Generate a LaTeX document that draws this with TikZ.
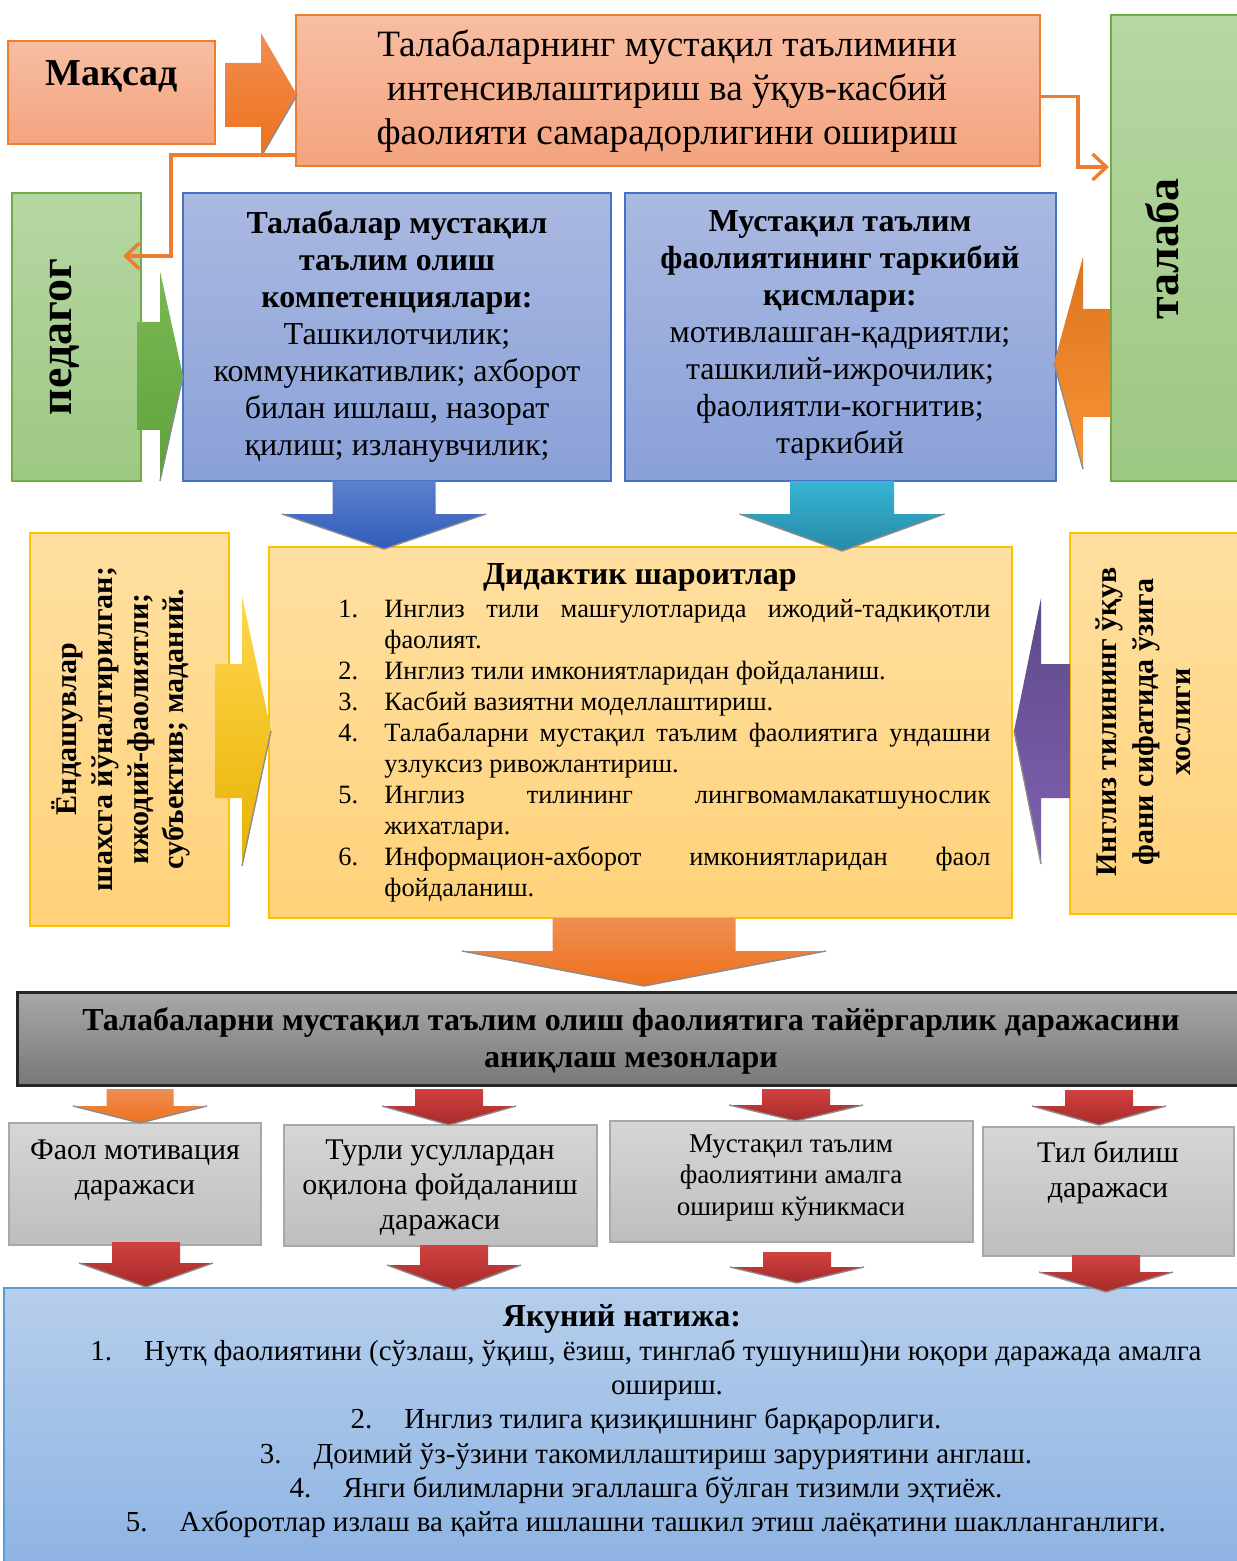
\documentclass[tikz,border=0pt]{standalone}
\usepackage{fontspec}
\setmainfont{Liberation Serif}
\usetikzlibrary{arrows.meta,fit}

% colours of the boxes
\definecolor{salmonTop}{RGB}{247,190,163}
\definecolor{salmonBot}{RGB}{244,163,127}
\definecolor{salmonLine}{RGB}{237,125,49}
\definecolor{greenTop}{RGB}{182,215,163}
\definecolor{greenBot}{RGB}{157,200,130}
\definecolor{greenLine}{RGB}{112,173,71}
\definecolor{blueTop}{RGB}{170,185,225}
\definecolor{blueBot}{RGB}{137,160,216}
\definecolor{blueLine}{RGB}{68,114,196}
\definecolor{yelTop}{RGB}{255,223,160}
\definecolor{yelBot}{RGB}{255,210,122}
\definecolor{yelLine}{RGB}{255,192,0}
\definecolor{grayTop}{RGB}{168,168,168}
\definecolor{grayBot}{RGB}{120,120,120}
\definecolor{lgrayTop}{RGB}{214,214,214}
\definecolor{lgrayBot}{RGB}{190,190,190}
\definecolor{lgrayLine}{RGB}{168,168,168}
\definecolor{resTop}{RGB}{182,206,235}
\definecolor{resBot}{RGB}{142,180,228}
\definecolor{resLine}{RGB}{91,155,213}

% block arrows
\tikzset{
  box/.style={rectangle, inner sep=0pt, line width=1pt},
  salmonbox/.style={box, draw=salmonLine, top color=salmonTop, bottom color=salmonBot},
  greenbox/.style={box, draw=greenLine, top color=greenTop, bottom color=greenBot},
  bluebox/.style={box, draw=blueLine, top color=blueTop, bottom color=blueBot},
  yelbox/.style={box, draw=yelLine, top color=yelTop, bottom color=yelBot},
  graybox/.style={box, draw=black!85, line width=1.5pt, top color=grayTop, bottom color=grayBot},
  lvlbox/.style={box, draw=lgrayLine, top color=lgrayTop, bottom color=lgrayBot},
  resbox/.style={box, draw=resLine, top color=resTop, bottom color=resBot},
  link/.style={draw=salmonLine, line width=1.7pt, -{Straight Barb[length=7pt,width=13pt]}},
  orArrow/.style={top color={rgb,255:red,240;green,142;blue,82}, bottom color={rgb,255:red,238;green,112;blue,28}},
  orUpArrow/.style={top color={rgb,255:red,218;green,116;blue,32}, bottom color={rgb,255:red,252;green,148;blue,52}},
  grArrow/.style={top color={rgb,255:red,124;green,184;blue,86}, bottom color={rgb,255:red,94;green,162;blue,58}},
  blArrow/.style={top color={rgb,255:red,92;green,128;blue,204}, bottom color={rgb,255:red,46;green,92;blue,186}},
  tlArrow/.style={top color={rgb,255:red,54;green,180;blue,214}, bottom color={rgb,255:red,40;green,138;blue,166}},
  ylArrow/.style={top color={rgb,255:red,255;green,214;blue,80}, bottom color={rgb,255:red,232;green,178;blue,0}},
  puArrow/.style={top color={rgb,255:red,94;green,74;blue,138}, bottom color={rgb,255:red,128;green,96;blue,176}},
  rdArrow/.style={top color={rgb,255:red,208;green,66;blue,64}, bottom color={rgb,255:red,166;green,42;blue,42}},
  goaltext/.style={font=\fontsize{18.6pt}{22pt}\selectfont, align=center},
  headtext/.style={font=\bfseries\fontsize{19pt}{22pt}\selectfont},
  roletext/.style={font=\bfseries\fontsize{23pt}{26pt}\selectfont, rotate=90},
  comptext/.style={font=\fontsize{16pt}{18.5pt}\selectfont, align=center},
  sidetext/.style={font=\bfseries\fontsize{15pt}{17.8pt}\selectfont, align=center, rotate=90},
  listtext/.style={font=\fontsize{13.2pt}{15.5pt}\selectfont, text width=326pt, align=justify, inner sep=0pt},
  crittext/.style={font=\bfseries\fontsize{16pt}{18.5pt}\selectfont, align=center},
  lvltext/.style={font=\fontsize{15pt}{17.5pt}\selectfont, align=center},
  restext/.style={font=\fontsize{14.5pt}{17.1pt}\selectfont, align=center}
}

% down arrow: colours, centre x, top y, half shaft, head y, half head, tip y
\newcommand{\downArrow}[7]{%
  \path[#1] (#2-#4,#3) -- (#2+#4,#3) -- (#2+#4,#5) -- (#2+#6,#5) -- (#2,#7) -- (#2-#6,#5) -- (#2-#4,#5) -- cycle;
  \draw[black!45, line width=0.7pt] (#2-#6,#5) -- (#2,#7) -- (#2+#6,#5);
}
% side arrow: colours, start x, centre y, half shaft, head x, half head, tip x
\newcommand{\sideArrow}[7]{%
  \path[#1] (#2,#3-#4) -- (#5,#3-#4) -- (#5,#3-#6) -- (#7,#3) -- (#5,#3+#6) -- (#5,#3+#4) -- (#2,#3+#4) -- cycle;
  \draw[black!45, line width=0.7pt] (#7,#3) -- (#5,#3+#6);
}
% one item of the list
\newcommand{\condItem}[2]{\hangindent=23pt\hangafter=1\noindent\makebox[23pt][l]{#1.}#2\par}

\begin{document}
\begin{tikzpicture}[x=0.5pt, y=-0.5pt]
  \useasboundingbox (0,0) rectangle (1236,1561);

  %% top row
  \node[salmonbox, fit={(8,41) (215,144)}] (maksadBox) {};
  \node[headtext] (maksadText) at (112,76) {Мақсад};
  \node[salmonbox, fit={(296,15) (1040,166)}] (goalBox) {};
  \node[goaltext] (goalText) at (667,91) {Талабаларнинг мустақил таълимини\\ интенсивлаштириш ва ўқув-касбий\\ фаолияти самарадорлигини ошириш};
  \sideArrow{orArrow}{225}{95}{32}{261}{62}{297}

  %% pedagog and talaba
  \node[greenbox, fit={(12,193) (141,481)}] (pedagogBox) {};
  \node[roletext] (pedagogText) at (65,337) {педагог};
  \node[greenbox, fit={(1111,15) (1240,481)}] (talabaBox) {};
  \node[roletext] (talabaText) at (1162,249) {талаба};

  % connectors from the goal
  \coordinate (pedIn) at (123,256);
  \coordinate (talIn) at (1109,167);
  \draw[link] ([yshift=6pt]goalBox.south west) -- ++(-124,0) |- (pedIn);
  \draw[link] ([yshift=-3pt]goalBox.east) -- ++(37,0) |- (talIn);

  %% competences and parts
  \node[bluebox, fit={(183,193) (611,481)}] (compBox) {};
  \node[comptext] (compText) at (397,337) {\textbf{Талабалар мустақил}\\ \textbf{таълим олиш}\\ \textbf{компетенциялари:}\\ Ташкилотчилик;\\ коммуникативлик; ахборот\\ билан ишлаш, назорат\\ қилиш; изланувчилик;};
  \node[bluebox, fit={(625,193) (1056,481)}] (partsBox) {};
  \node[comptext] (partsText) at (840,335) {\textbf{Мустақил таълим}\\ \textbf{фаолиятининг таркибий}\\ \textbf{қисмлари:}\\ мотивлашган-қадриятли;\\ ташкилий-ижрочилик;\\ фаолиятли-когнитив;\\ таркибий};
  \sideArrow{grArrow}{137}{376}{54}{160}{105}{183}
  \sideArrow{orUpArrow}{1110}{363}{54}{1083}{106}{1054}

  %% didactic conditions
  \node[yelbox, fit={(30,533) (229,926)}] (approachBox) {};
  \node[sidetext] (approachText) at (121,729) {Ёндашувлар\\ шахсга йўналтирилган;\\ ижодий-фаолиятли;\\ субъектив; маданий.};
  \node[yelbox, fit={(269,547) (1012,918)}] (condBox) {};
  \node[font=\bfseries\fontsize{16pt}{18pt}\selectfont] (condTitle) at (640,577) {Дидактик шароитлар};
  \node[listtext, anchor=north west] (condList) at (338,599) {\hyphenpenalty=10000
    \condItem{1}{Инглиз тили машғулотларида ижодий-тадкиқотли\linebreak фаолият.}
    \condItem{2}{Инглиз тили имкониятларидан фойдаланиш.}
    \condItem{3}{Касбий вазиятни моделлаштириш.}
    \condItem{4}{Талабаларни мустақил таълим фаолиятига ундашни\linebreak узлуксиз ривожлантириш.}
    \condItem{5}{Инглиз тилининг лингвомамлакатшунослик\linebreak жихатлари.}
    \condItem{6}{Информацион-ахборот имкониятларидан фаол\linebreak фойдаланиш.}};
  \node[yelbox, fit={(1070,533) (1240,914)}] (featureBox) {};
  \node[sidetext, font=\bfseries\fontsize{15pt}{18.5pt}\selectfont] (featureText) at (1143,722) {Инглиз тилининг ўқув\\ фани сифатида ўзига\\ хослиги};
  \sideArrow{ylArrow}{215}{731}{67}{242}{135}{271}
  \sideArrow{puArrow}{1070}{731}{67}{1041}{133}{1014}
  \downArrow{blArrow}{384}{481}{51.5}{514}{102}{549}
  \downArrow{tlArrow}{842}{481}{52}{514}{102.5}{551}

  %% criteria
  \node[graybox, fit={(17,992) (1240,1085)}] (criteriaBox) {};
  \node[crittext] (criteriaText) at (631,1041) {Талабаларни мустақил таълим олиш фаолиятига тайёргарлик даражасини\\ аниқлаш мезонлари};
  \downArrow{orArrow}{644}{918}{91.5}{951}{182}{986}

  \node[lvlbox, fit={(9,1123) (261,1245)}] (lvlOne) {};
  \node[lvltext] (lvlOneText) at (135,1170) {Фаол мотивация\\ даражаси};
  \node[lvlbox, fit={(284,1125) (597,1246)}] (lvlTwo) {};
  \node[lvltext] (lvlTwoText) at (440,1188) {Турли усуллардан\\ оқилона фойдаланиш\\ даражаси};
  \node[lvlbox, fit={(610,1121) (973,1242)}] (lvlThree) {};
  \node[lvltext, font=\fontsize{13.5pt}{15.8pt}\selectfont] (lvlThreeText) at (791,1178) {Мустақил таълим\\ фаолиятини амалга\\ ошириш кўникмаси};
  \node[lvlbox, fit={(983,1127) (1234,1256)}] (lvlFour) {};
  \node[lvltext] (lvlFourText) at (1108,1172) {Тил билиш\\ даражаси};

  % small arrows above the levels
  \downArrow{orArrow}{140}{1089}{33.5}{1106}{67}{1123}
  \foreach \cx/\tp/\hy/\tip in {449/1089/1106/1125, 796/1089/1105/1121, 1099/1090/1106/1125} {
    \downArrow{rdArrow}{\cx}{\tp}{34}{\hy}{67}{\tip}
  }

  %% final result
  \node[resbox, fit={(4,1288) (1240,1565)}] (resultBox) {};
  \node[restext] (resultText) at (646,1421) {\hspace*{-24pt}{\bfseries\fontsize{16pt}{17.1pt}\selectfont Якуний натижа:}\\
    1.\hspace{16pt}Нутқ фаолиятини (сўзлаш, ўқиш, ёзиш, тинглаб тушуниш)ни юқори даражада амалга\\
    \hspace*{21pt}ошириш.\\
    2.\hspace{16pt}Инглиз тилига қизиқишнинг барқарорлиги.\\
    3.\hspace{16pt}Доимий ўз-ўзини такомиллаштириш заруриятини англаш.\\
    4.\hspace{16pt}Янги билимларни эгаллашга бўлган тизимли эҳтиёж.\\
    5.\hspace{16pt}Ахборотлар излаш ва қайта ишлашни ташкил этиш лаёқатини шаклланганлиги.};

  % arrows into the result
  \foreach \cx/\tp/\hy/\tip in {146/1242/1263/1287, 454/1245/1265/1290, 797/1252/1267/1283, 1106/1255/1272/1292} {
    \downArrow{rdArrow}{\cx}{\tp}{34}{\hy}{67}{\tip}
  }
\end{tikzpicture}
\end{document}
